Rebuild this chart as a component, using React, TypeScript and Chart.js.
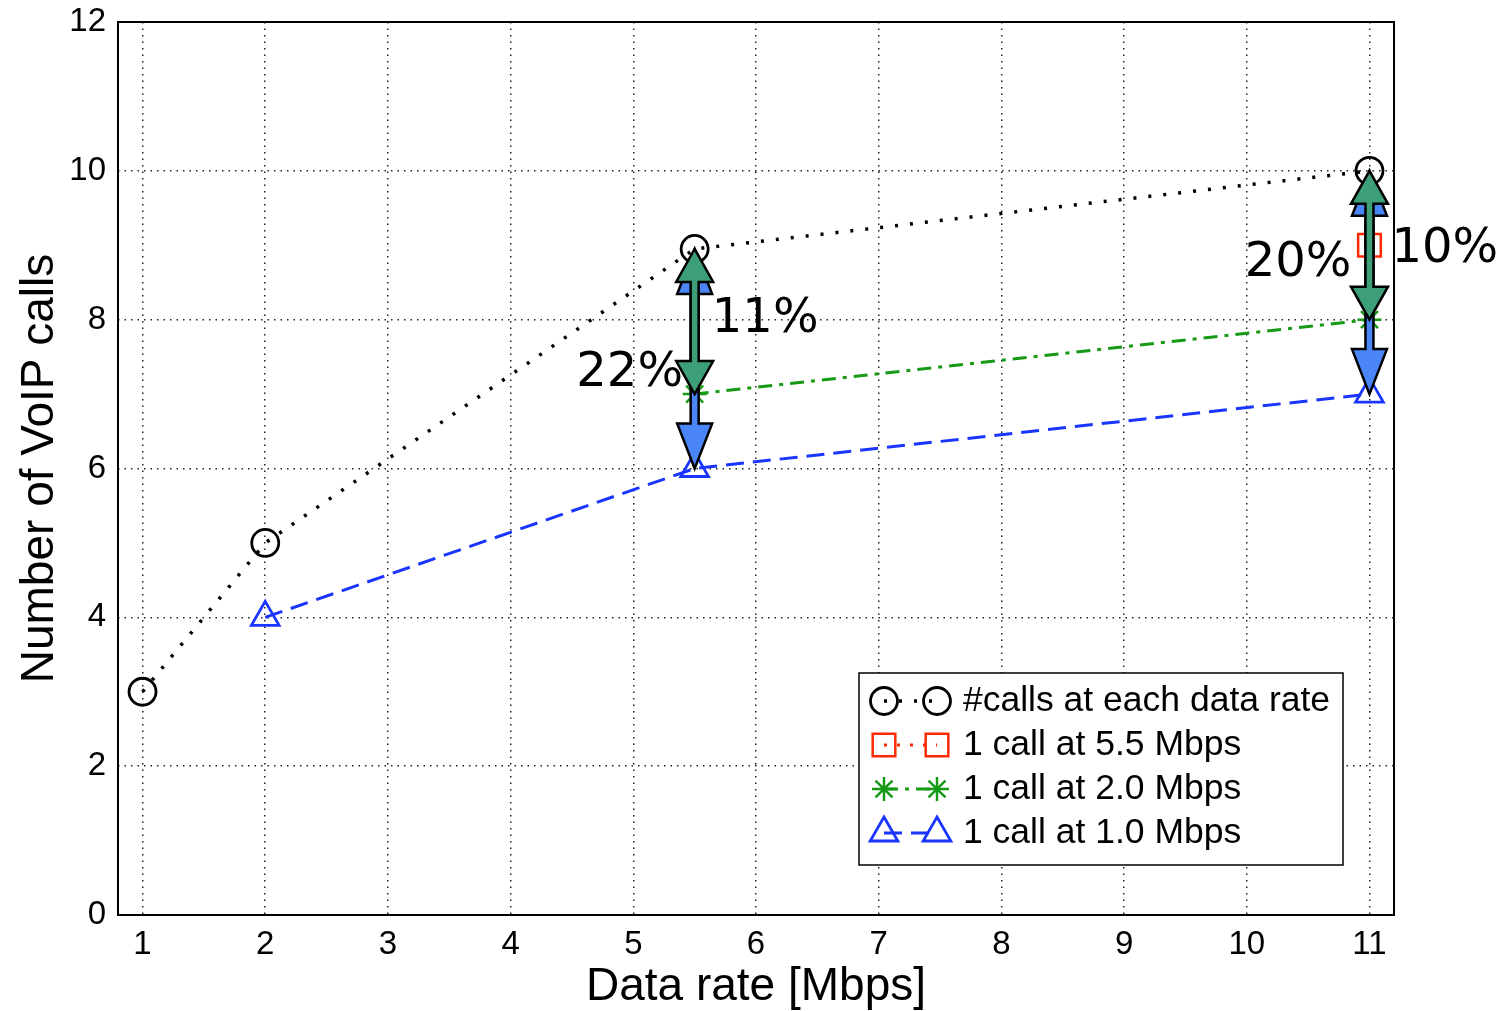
import React, { useEffect, useRef } from 'react';
import { Chart, registerables } from 'chart.js';
import { drawPoint } from 'chart.js/helpers';
Chart.register(...registerables);

const FONT = "'Liberation Sans', Arial, Helvetica, sans-serif";

const xTicks = [1, 2, 3, 4, 5, 6, 7, 8, 9, 10, 11];
const yTicks = [0, 2, 4, 6, 8, 10, 12];

const callsX = [1, 2, 5.5, 11];
const callsY = [3, 5, 8.95, 10];
const at55X = [11];
const at55Y = [9];
const at20X = [5.5, 11];
const at20Y = [7, 8];
const at10X = [2, 5.5, 11];
const at10Y = [4, 6, 7];

const seriesLabels = [
  '#calls at each data rate',
  '1 call at 5.5 Mbps',
  '1 call at 2.0 Mbps',
  '1 call at 1.0 Mbps',
];

// double-headed arrows (data coordinates)
const arrowX = [5.5, 5.5, 11, 11];
const arrowFrom = [8.95, 8.95, 10, 10];
const arrowTo = [6, 7, 7, 8];
const arrowKind = ['blue', 'green', 'blue', 'green'];

// percentage notes (anchor in data coordinates)
const noteText = ['11%', '22%', '20%', '10%'];
const noteX = [5.64, 5.405, 10.853, 11.18];
const noteY = [8.0, 7.28, 8.76, 8.94];
const noteAlign = ['left', 'right', 'right', 'left'];

const pts = (xs: number[], ys: number[]) => xs.map((x, i) => ({ x, y: ys[i] }));

const arrowStyle: Record<string, { fill: string; headH: number; headW: number; shaftW: number }> = {
  blue: { fill: '#4a86f7', headH: 45, headW: 35, shaftW: 8 },
  green: { fill: '#3d9f78', headH: 33, headW: 37, shaftW: 8 },
};

const arrowsPlugin = {
  id: 'arrows',
  afterDatasetsDraw(chart: any) {
    const { ctx, scales } = chart;
    const xs = scales.x, ys = scales.y;
    ctx.save();
    arrowX.forEach((xv, i) => {
      const st = arrowStyle[arrowKind[i]];
      const x = xs.getPixelForValue(xv);
      const y1 = ys.getPixelForValue(arrowFrom[i]);
      const y2 = ys.getPixelForValue(arrowTo[i]);
      const { headH, headW, shaftW } = st;
      ctx.beginPath();
      ctx.moveTo(x, y1);
      ctx.lineTo(x + headW / 2, y1 + headH);
      ctx.lineTo(x + shaftW / 2, y1 + headH);
      ctx.lineTo(x + shaftW / 2, y2 - headH);
      ctx.lineTo(x + headW / 2, y2 - headH);
      ctx.lineTo(x, y2);
      ctx.lineTo(x - headW / 2, y2 - headH);
      ctx.lineTo(x - shaftW / 2, y2 - headH);
      ctx.lineTo(x - shaftW / 2, y1 + headH);
      ctx.lineTo(x - headW / 2, y1 + headH);
      ctx.closePath();
      ctx.fillStyle = st.fill;
      ctx.fill();
      ctx.lineWidth = 2.5;
      ctx.lineJoin = 'miter';
      ctx.strokeStyle = '#000';
      ctx.setLineDash([]);
      ctx.stroke();
    });
    ctx.font = "48px 'DejaVu Sans', Verdana, sans-serif";
    ctx.fillStyle = '#000';
    ctx.textBaseline = 'middle';
    noteText.forEach((t, i) => {
      ctx.textAlign = noteAlign[i];
      ctx.fillText(t, xs.getPixelForValue(noteX[i]), ys.getPixelForValue(noteY[i]));
    });
    ctx.restore();
  },
};

const framePlugin = {
  id: 'frame',
  afterDraw(chart: any) {
    const { ctx, chartArea: a } = chart;
    ctx.save();
    ctx.strokeStyle = '#000';
    ctx.lineWidth = 2;
    ctx.setLineDash([]);
    ctx.strokeRect(a.left, a.top, a.right - a.left, a.bottom - a.top);

    // legend box
    const w = 484, h = 192;
    const left = a.right - 535, top = a.bottom - 242;
    ctx.fillStyle = '#fff';
    ctx.fillRect(left, top, w, h);
    ctx.lineWidth = 1.5;
    ctx.strokeRect(left, top, w, h);
    chart.data.datasets.forEach((ds: any, i: number) => {
      const y = top + 28 + i * 44;
      const x1 = left + 25, x2 = left + 78;
      ctx.save();
      ctx.strokeStyle = ds.borderColor;
      ctx.lineWidth = ds.borderWidth;
      ctx.setLineDash(ds.borderDash || []);
      ctx.beginPath();
      ctx.moveTo(x1, y);
      ctx.lineTo(x2, y);
      ctx.stroke();
      ctx.restore();
      const popts = {
        pointStyle: ds.pointStyle,
        radius: ds.pointRadius,
        borderWidth: ds.pointBorderWidth,
        rotation: 0,
      };
      [x1, x2].forEach((px) => {
        ctx.save();
        ctx.setLineDash([]);
        ctx.strokeStyle = ds.pointBorderColor;
        ctx.fillStyle = 'rgba(0,0,0,0)';
        ctx.lineWidth = ds.pointBorderWidth;
        drawPoint(ctx, popts as any, px, y);
        ctx.restore();
      });
      ctx.fillStyle = '#000';
      ctx.font = `35.5px ${FONT}`;
      ctx.textAlign = 'left';
      ctx.textBaseline = 'middle';
      ctx.fillText(ds.label, left + 104, y);
    });
    ctx.restore();
  },
};

export default function App() {
  const ref = useRef<HTMLCanvasElement>(null);
  useEffect(() => {
    const canvas = ref.current!;
    const chart = new Chart(canvas, {
      type: 'line',
      data: {
        datasets: [
          {
            label: seriesLabels[0],
            data: pts(callsX, callsY),
            borderColor: '#000',
            borderWidth: 3.5,
            borderDash: [3, 12],
            pointStyle: 'circle',
            pointRadius: 13.5,
            pointBorderWidth: 2.8,
            pointBorderColor: '#000',
            pointBackgroundColor: 'rgba(0,0,0,0)',
          },
          {
            label: seriesLabels[1],
            data: pts(at55X, at55Y),
            borderColor: '#ff2a00',
            borderWidth: 3,
            borderDash: [3, 10],
            pointStyle: 'rect',
            pointRadius: 16,
            pointBorderWidth: 2.5,
            pointBorderColor: '#ff2a00',
            pointBackgroundColor: 'rgba(0,0,0,0)',
          },
          {
            label: seriesLabels[2],
            data: pts(at20X, at20Y),
            borderColor: '#169a16',
            borderWidth: 3,
            borderDash: [14, 7, 4, 7],
            pointStyle: 'star',
            pointRadius: 12,
            pointBorderWidth: 2.5,
            pointBorderColor: '#169a16',
            pointBackgroundColor: 'rgba(0,0,0,0)',
          },
          {
            label: seriesLabels[3],
            data: pts(at10X, at10Y),
            borderColor: '#1a35ff',
            borderWidth: 3,
            borderDash: [18, 9],
            pointStyle: 'triangle',
            pointRadius: 16,
            pointBorderWidth: 2.8,
            pointBorderColor: '#1a35ff',
            pointBackgroundColor: 'rgba(0,0,0,0)',
          },
        ],
      },
      options: {
        animation: false,
        responsive: false,
        layout: { padding: { top: 22, right: 110, left: 0, bottom: 0 } },
        plugins: { legend: { display: false }, tooltip: { enabled: false } },
        scales: {
          x: {
            type: 'linear',
            min: 0.8,
            max: 11.2,
            afterBuildTicks: (s: any) => {
              s.ticks = xTicks.map((v) => ({ value: v }));
            },
            afterFit: (s: any) => {
              s.height = 96;
              s.paddingLeft = 0;
              s.paddingRight = 0;
            },
            grid: { color: '#222', lineWidth: 1.5, drawTicks: false },
            border: { display: false, dash: [1.5, 5] },
            ticks: { color: '#000', font: { size: 33, family: FONT }, padding: 10, maxRotation: 0, autoSkip: false },
            title: {
              display: true,
              text: 'Data rate [Mbps]',
              color: '#000',
              font: { size: 46, family: FONT },
              padding: { top: 0, bottom: -4 },
            },
          },
          y: {
            type: 'linear',
            min: 0,
            max: 12,
            afterBuildTicks: (s: any) => {
              s.ticks = yTicks.map((v) => ({ value: v }));
            },
            afterFit: (s: any) => {
              s.width = 118;
              s.paddingTop = 0;
              s.paddingBottom = 0;
            },
            grid: { color: '#222', lineWidth: 1.5, drawTicks: false },
            border: { display: false, dash: [1.5, 5] },
            ticks: { color: '#000', font: { size: 33, family: FONT }, padding: 12 },
            title: {
              display: true,
              text: 'Number of VoIP calls',
              color: '#000',
              font: { size: 46, family: FONT },
              padding: { top: 13, bottom: 0 },
            },
          },
        },
      },
      plugins: [arrowsPlugin, framePlugin],
    } as any);
    return () => chart.destroy();
  }, []);
  return (
    <div style={{ position: 'fixed', left: 0, top: 0, width: 1504, height: 1011, background: '#fff' }}>
      <canvas ref={ref} width={1504} height={1011} style={{ display: 'block' }} />
    </div>
  );
}
